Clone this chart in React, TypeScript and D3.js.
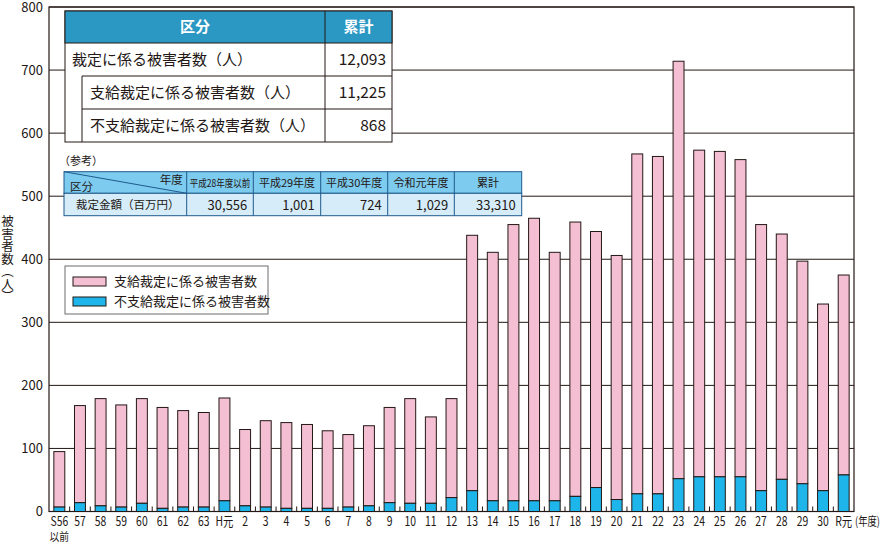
import { useEffect, useRef } from "react";
import * as d3 from "d3";

const categories = [
  "S56", "57", "58", "59", "60", "61", "62", "63", "H元",
  "2", "3", "4", "5", "6", "7", "8", "9", "10", "11", "12", "13", "14", "15", "16",
  "17", "18", "19", "20", "21", "22", "23", "24", "25", "26", "27", "28", "29", "30", "R元",
];
// 不支給裁定に係る被害者数
const unpaid = [
  7, 14, 9, 7, 13, 5, 7, 7, 17, 9, 7, 5, 5, 5, 7, 9, 14, 13, 13, 22,
  33, 17, 17, 17, 17, 24, 38, 19, 28, 28, 52, 55, 55, 55, 33, 51, 44, 33, 58,
];
// 支給裁定に係る被害者数
const paid = [
  88, 154, 170, 162, 166, 160, 153, 150, 163, 121, 137, 136, 133, 123, 115, 127, 151, 166, 137, 157,
  405, 394, 438, 448, 394, 435, 406, 387, 539, 535, 662, 518, 516, 503, 422, 389, 353, 296, 317,
];
const yTicks = [0, 100, 200, 300, 400, 500, 600, 700, 800];

const summaryLabels = ["裁定に係る被害者数（人）", "支給裁定に係る被害者数（人）", "不支給裁定に係る被害者数（人）"];
const summaryValues = ["12,093", "11,225", "868"];
const refYears = ["平成28年度以前", "平成29年度", "平成30年度", "令和元年度", "累計"];
const refAmounts = ["30,556", "1,001", "724", "1,029", "33,310"];

const FONT = "'Noto Sans CJK JP', 'Noto Sans', sans-serif";
const DARK = "#231815";
const PINK = "#f4bfd3";
const BLUE = "#1db5ea";

const Chart = () => {
  const ref = useRef(null);

  useEffect(() => {
    const W = 880, H = 542;
    const left = 49, right = 854, top = 7, bottom = 511.5;
    const svg = d3.select(ref.current).attr("width", W).attr("height", H);
    svg.selectAll("*").remove();
    svg.style("font-family", FONT);

    const x = d3.scaleBand().domain(categories).range([left, right]).paddingInner(0.47).paddingOuter(0.235);
    const y = d3.scaleLinear().domain([0, 800]).range([bottom, top]);

    // gridlines
    svg.append("g")
      .selectAll("line")
      .data(yTicks)
      .join("line")
      .attr("x1", left).attr("x2", right)
      .attr("y1", (d) => y(d)).attr("y2", (d) => y(d))
      .attr("stroke", DARK).attr("stroke-width", 1);

    // frame
    svg.append("rect")
      .attr("x", left).attr("y", y(800))
      .attr("width", right - left).attr("height", y(0) - y(800))
      .attr("fill", "none").attr("stroke", DARK).attr("stroke-width", 1.2);

    // y labels
    svg.append("g")
      .selectAll("text")
      .data(yTicks)
      .join("text")
      .attr("x", 43).attr("y", (d) => y(d))
      .attr("dy", "0.36em")
      .attr("text-anchor", "end")
      .attr("font-size", 13)
      .attr("fill", DARK)
      .text((d) => d);

    // bottom ticks at band boundaries
    const step = x.step();
    svg.append("g")
      .selectAll("line")
      .data(d3.range(1, categories.length))
      .join("line")
      .attr("x1", (i) => left + i * step).attr("x2", (i) => left + i * step)
      .attr("y1", bottom).attr("y2", bottom - 5)
      .attr("stroke", DARK);

    // bars
    const bars = svg.append("g");
    categories.forEach((c, i) => {
      bars.append("rect")
        .attr("x", x(c)).attr("width", x.bandwidth())
        .attr("y", y(unpaid[i] + paid[i])).attr("height", y(unpaid[i]) - y(unpaid[i] + paid[i]))
        .attr("fill", PINK).attr("stroke", DARK).attr("stroke-width", 1);
      bars.append("rect")
        .attr("x", x(c)).attr("width", x.bandwidth())
        .attr("y", y(unpaid[i])).attr("height", y(0) - y(unpaid[i]))
        .attr("fill", BLUE).attr("stroke", DARK).attr("stroke-width", 1);
    });

    // x labels
    svg.append("g")
      .selectAll("text")
      .data(categories)
      .join("text")
      .attr("transform", (d) => `translate(${x(d) + x.bandwidth() / 2},526) scale(0.8,1)`)
      .attr("text-anchor", "middle")
      .attr("font-size", 13)
      .attr("fill", DARK)
      .text((d) => d);
    svg.append("text")
      .attr("transform", `translate(${x("S56") + x.bandwidth() / 2},540.5) scale(0.85,1)`)
      .attr("text-anchor", "middle").attr("font-size", 11.5).attr("fill", DARK)
      .text("以前");
    svg.append("text")
      .attr("transform", `translate(855,526) scale(0.78,1)`)
      .attr("font-size", 12).attr("fill", DARK)
      .text("(年度)");

    // y title
    svg.append("text")
      .attr("x", 7.5).attr("y", 215)
      .style("writing-mode", "vertical-rl")
      .attr("font-size", 12.5).attr("fill", DARK)
      .text("被害者数（人）");

    // summary table
    const t1 = svg.append("g");
    const tx0 = 65, tx1 = 392, tCol = 325, tInd = 82;
    const rowY = [11, 43, 76, 109, 142];
    t1.append("rect").attr("x", tx0).attr("y", rowY[0]).attr("width", tx1 - tx0).attr("height", rowY[4] - rowY[0])
      .attr("fill", "#fff").attr("stroke", DARK);
    t1.append("rect").attr("x", tx0).attr("y", rowY[0]).attr("width", tx1 - tx0).attr("height", rowY[1] - rowY[0])
      .attr("fill", "#2b97c3").attr("stroke", DARK);
    t1.append("line").attr("x1", tCol).attr("x2", tCol).attr("y1", rowY[0]).attr("y2", rowY[4]).attr("stroke", DARK);
    t1.append("line").attr("x1", tInd).attr("x2", tInd).attr("y1", rowY[2]).attr("y2", rowY[4]).attr("stroke", DARK);
    [rowY[2], rowY[3]].forEach((ry) =>
      t1.append("line").attr("x1", tInd).attr("x2", tx1).attr("y1", ry).attr("y2", ry).attr("stroke", DARK));
    t1.append("text").attr("x", (tx0 + tCol) / 2).attr("y", 32).attr("text-anchor", "middle")
      .attr("font-size", 15).attr("font-weight", "bold").attr("fill", "#fff").text("区分");
    t1.append("text").attr("x", (tCol + tx1) / 2).attr("y", 32).attr("text-anchor", "middle")
      .attr("font-size", 15).attr("font-weight", "bold").attr("fill", "#fff").text("累計");
    summaryLabels.forEach((s, i) => {
      t1.append("text").attr("x", i === 0 ? 72 : 90).attr("y", (rowY[i + 1] + rowY[i + 2]) / 2)
        .attr("dy", "0.36em").attr("font-size", 15).attr("fill", DARK).text(s);
      t1.append("text").attr("x", 386).attr("y", (rowY[i + 1] + rowY[i + 2]) / 2)
        .attr("dy", "0.36em").attr("text-anchor", "end").attr("font-size", 15.5).attr("fill", DARK)
        .text(summaryValues[i]);
    });

    // reference table
    const t2 = svg.append("g");
    const BORDER = "#1f5a8c";
    const cols = [64, 186.7, 253.3, 320.7, 387.7, 454.3, 521.7];
    const r0 = 171.7, r1 = 193.3, r2 = 215.7;
    t2.append("text").attr("x", 59).attr("y", 165).attr("font-size", 11).attr("fill", DARK).text("（参考）");
    t2.append("rect").attr("x", cols[0]).attr("y", r0).attr("width", cols[6] - cols[0]).attr("height", r1 - r0)
      .attr("fill", "#7dcbee").attr("stroke", BORDER);
    t2.append("rect").attr("x", cols[0]).attr("y", r1).attr("width", cols[6] - cols[0]).attr("height", r2 - r1)
      .attr("fill", "#d6edf9").attr("stroke", BORDER);
    cols.slice(1, 6).forEach((cx) =>
      t2.append("line").attr("x1", cx).attr("x2", cx).attr("y1", r0).attr("y2", r2).attr("stroke", BORDER));
    t2.append("line").attr("x1", cols[0]).attr("x2", cols[1]).attr("y1", r0).attr("y2", r1).attr("stroke", BORDER);
    t2.append("text").attr("x", cols[1] - 4).attr("y", 184).attr("text-anchor", "end")
      .attr("font-size", 11.5).attr("fill", DARK).text("年度");
    t2.append("text").attr("x", 70).attr("y", 191).attr("font-size", 11.5).attr("fill", DARK).text("区分");
    refYears.forEach((s, i) => {
      const w = cols[i + 2] - cols[i + 1];
      const tt = t2.append("text").attr("x", (cols[i + 1] + cols[i + 2]) / 2).attr("y", 186.5)
        .attr("text-anchor", "middle").attr("font-size", 11).attr("fill", DARK).text(s);
      if (i === 0) tt.attr("textLength", w - 6).attr("lengthAdjust", "spacingAndGlyphs").attr("font-size", 10.5);
      t2.append("text").attr("x", cols[i + 2] - 6).attr("y", 209.5).attr("text-anchor", "end")
        .attr("font-size", 13).attr("fill", DARK).text(refAmounts[i]);
    });
    t2.append("text").attr("x", 76).attr("y", 209).attr("font-size", 11.5).attr("fill", DARK).text("裁定金額（百万円）");

    // legend
    const lg = svg.append("g");
    lg.append("rect").attr("x", 65).attr("y", 266).attr("width", 203).attr("height", 48)
      .attr("fill", "#fff").attr("stroke", "#6d6d6d");
    [["支給裁定に係る被害者数", PINK], ["不支給裁定に係る被害者数", BLUE]].forEach(([label, col], i) => {
      lg.append("rect").attr("x", 73).attr("y", 277 + i * 20).attr("width", 33).attr("height", 9)
        .attr("fill", col).attr("stroke", DARK);
      lg.append("text").attr("x", 114).attr("y", 281.5 + i * 20).attr("dy", "0.36em")
        .attr("font-size", 13).attr("fill", DARK).text(label);
    });
  }, []);

  return (
    <div style={{ position: "absolute", left: 0, top: 0, background: "#fff" }}>
      <svg ref={ref}></svg>
    </div>
  );
};

export default function App() {
  return <Chart />;
}
